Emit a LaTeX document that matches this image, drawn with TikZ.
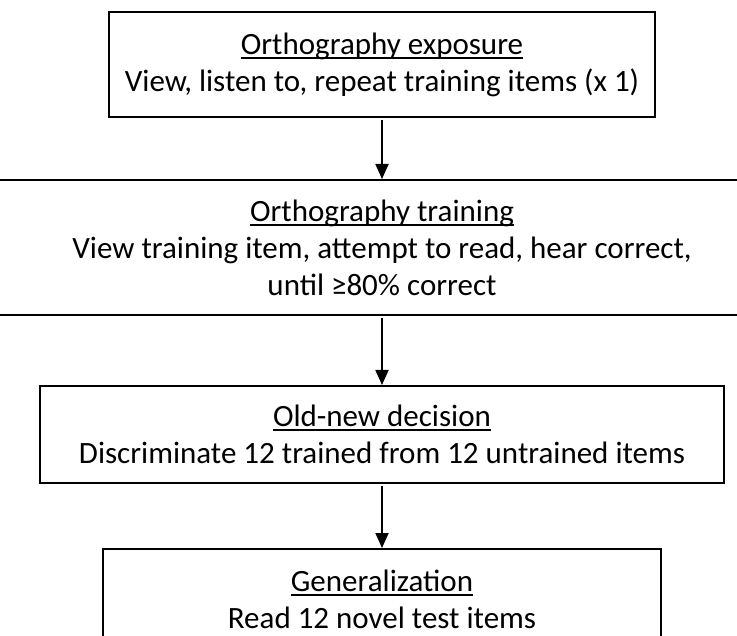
\documentclass[tikz,border=0pt]{standalone}
\usepackage{fontspec}
\setmainfont{Carlito}
\usetikzlibrary{arrows.meta}
\newcommand{\ulx}[1]{\setbox0\hbox{#1}\leavevmode\rlap{\rule[-4.5pt]{\wd0}{1.8pt}}\box0}
\begin{document}
\begin{tikzpicture}[x=1pt,y=-1pt,
  stagebox/.style={draw=black,line width=2pt,fill=white,align=center,inner sep=0pt,
    font=\fontsize{31}{37}\selectfont},
  flowarrow/.style={line width=1.8pt,shorten <=2pt,-{Triangle[length=15pt,width=13pt]}}]
\useasboundingbox (0,0) rectangle (737,636);
\clip (0,0) rectangle (737,636);
\node[stagebox,minimum width=546pt,minimum height=105pt] (b1) at (382,64.5)
  {\ulx{Orthography exposure}\\View, listen to, repeat training items (x 1)};
\node[stagebox,minimum width=790pt,minimum height=135pt] (b2) at (382,247.5)
  {\ulx{Orthography training}\\View training item, attempt to read, hear correct,\\until ≥80\% correct};
\node[stagebox,minimum width=684pt,minimum height=97pt] (b3) at (382,434.5)
  {\ulx{Old-new decision}\\Discriminate 12 trained from 12 untrained items};
\node[stagebox,minimum width=558pt,minimum height=100pt] (b4) at (382,599)
  {\ulx{Generalization}\\Read 12 novel test items};
\draw[flowarrow] (b1.south) -- (b2.north);
\draw[flowarrow] (b2.south) -- (b3.north);
\draw[flowarrow] (b3.south) -- (b4.north);
\end{tikzpicture}
\end{document}
